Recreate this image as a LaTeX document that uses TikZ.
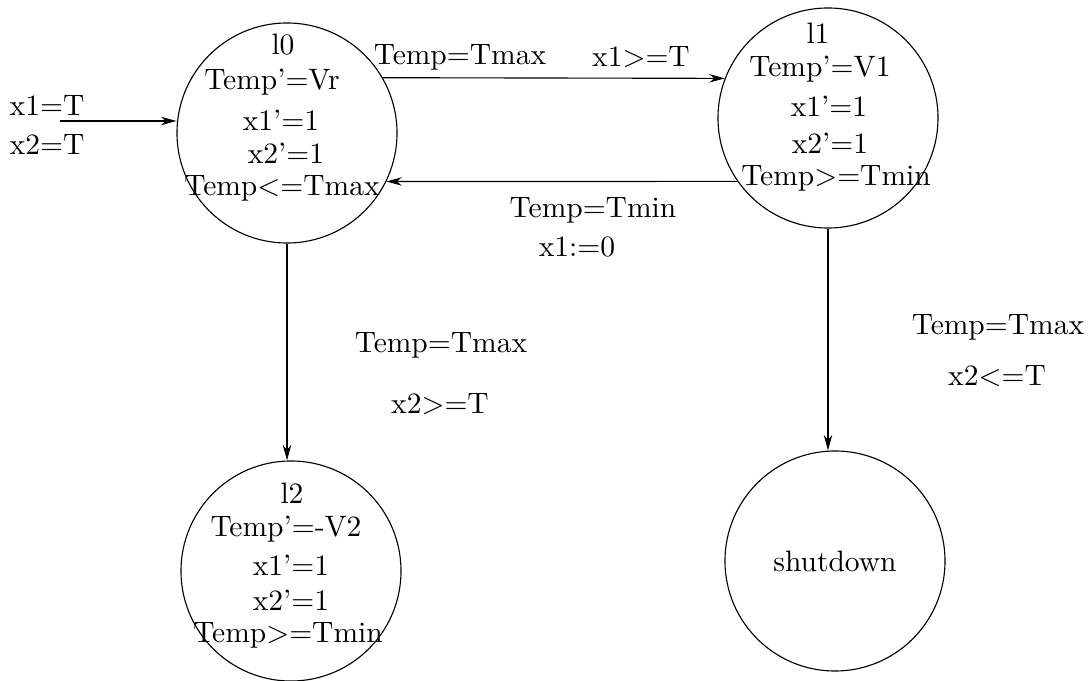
\documentclass[tikz,border=0pt]{standalone}
\usepackage{tikz}
\usetikzlibrary{arrows.meta,shapes.geometric}

\begin{document}
\begin{tikzpicture}[x=0.0125cm, y=-0.0125cm, every node/.style={font=\fontsize{10.5pt}{12.6pt}\selectfont}]
  \tikzset{
    loc/.style={draw, circle, minimum size=2.75cm, inner sep=0pt},
    txt/.style={inner sep=0pt},
    trans/.style={-{Stealth[length=5.5pt, width=3pt]}, thin}
  }
  \useasboundingbox (0,0) rectangle (1089,681);

  % locations
  \node[loc] (l0) at (287,133) {};
  \node[loc] (l1) at (828,118) {};
  \node[loc] (l2) at (291,571) {};
  \node[loc] (sd) at (835,561) {shutdown};

  % invariants and flows
  \node[txt] (l0name) at (283,45)  {l0};
  \node[txt] (l0flow) at (272,82)  {Temp'=Vr};
  \node[txt] (l0x1)   at (281,120) {x1'=1};
  \node[txt] (l0x2)   at (286,153) {x2'=1};
  \node[txt] (l0inv)  at (282,188) {Temp<=Tmax};

  \node[txt] (l1name) at (818,33)  {l1};
  \node[txt] (l1flow) at (820,69)  {Temp'=V1};
  \node[txt] (l1x1)   at (829,106) {x1'=1};
  \node[txt] (l1x2)   at (830,143) {x2'=1};
  \node[txt] (l1inv)  at (836,178) {Temp>=Tmin};

  \node[txt] (l2name) at (292,493) {l2};
  \node[txt] (l2flow) at (286,529) {Temp'=-V2};
  \node[txt] (l2x1)   at (291,565) {x1'=1};
  \node[txt] (l2x2)   at (291,600) {x2'=1};
  \node[txt] (l2inv)  at (288,635) {Temp>=Tmin};

  % initial
  \coordinate (init) at (60,121);
  \draw[trans] (init) -- (init -| l0.west);
  \node[txt] (ini1) at (47,106) {x1=T};
  \node[txt] (ini2) at (47,145) {x2=T};

  % transitions
  \draw[trans] (l0.30) -- (l1.159);
  \node[txt] (g01a) at (460,57) {Temp=Tmax};
  \node[txt] (g01b) at (641,57) {x1>=T};

  \draw[trans] (l1.215) -- (l0.334);
  \node[txt] (g10a) at (593,210) {Temp=Tmin};
  \node[txt] (g10b) at (577,247) {x1:=0};

  \draw[trans] (l0.south) -- (l0.south |- l2.north);
  \node[txt] (g02a) at (441,345) {Temp=Tmax};
  \node[txt] (g02b) at (440,404) {x2>=T};

  \draw[trans] (l1.south) -- (l1.south |- sd.north);
  \node[txt] (g1sa) at (998,327) {Temp=Tmax};
  \node[txt] (g1sb) at (997,376) {x2<=T};
\end{tikzpicture}
\end{document}
